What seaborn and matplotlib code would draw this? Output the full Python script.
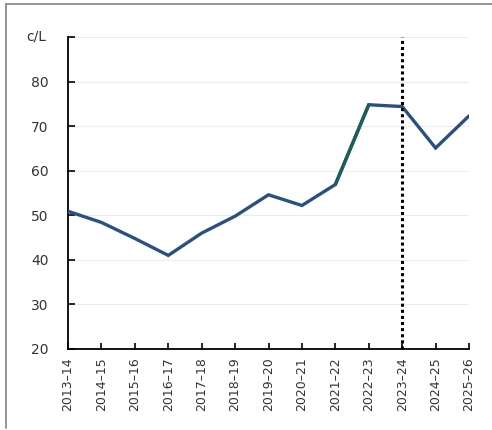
import matplotlib
matplotlib.use("Agg")
import matplotlib.pyplot as plt
from matplotlib.lines import Line2D
import seaborn as sns
import pandas as pd

# Financial years and average price (c/L)
years = ["2013–14", "2014–15", "2015–16", "2016–17", "2017–18", "2018–19",
         "2019–20", "2020–21", "2021–22", "2022–23", "2023–24", "2024–25", "2025–26"]
price = [50.9, 48.4, 44.8, 41.0, 46.0, 49.8, 54.6, 52.2, 56.9, 74.8, 74.4, 65.1, 72.3]

# Highlighted jump between these two years
highlight_years = ["2021–22", "2022–23"]
# Boundary marker year
marker_year = "2023–24"

y_ticks = [20, 30, 40, 50, 60, 70, 80, 90]
y_tick_labels = ["20", "30", "40", "50", "60", "70", "80", ""]
y_unit = "c/L"

blue = "#2a5083"
green = "#1c5e5a"

sns.set_theme(style="white")
plt.rcParams["font.family"] = ["DejaVu Sans"]

df = pd.DataFrame({"year": years, "price": price})
df["x"] = range(len(df))
hl = df[df["year"].isin(highlight_years)]

fig = plt.figure(figsize=(4.92, 4.30), dpi=100)
ax = fig.add_axes([68 / 492, 1 - 349 / 430, (469 - 68) / 492, (349 - 37) / 430])

sns.lineplot(data=df, x="x", y="price", ax=ax, color=blue, linewidth=2.4,
             solid_joinstyle="miter", zorder=3)
sns.lineplot(data=hl, x="x", y="price", ax=ax, color=green, linewidth=2.4,
             zorder=4)

mx = years.index(marker_year)
ax.axvline(mx, color="black", linestyle=(0, (1, 1)), linewidth=2.2, zorder=5)

ax.set_xlim(0, len(years) - 1)
ax.set_ylim(20, 90)
ax.set_yticks(y_ticks)
ax.set_yticklabels(y_tick_labels)
ax.set_xticks(df["x"])
ax.set_xticklabels(years, rotation=90)
ax.set_xlabel("")
ax.set_ylabel("")

ax.grid(axis="y", color="#ececec", linewidth=0.8)
ax.set_axisbelow(True)
for s in ["top", "right"]:
    ax.spines[s].set_visible(False)
for s in ["left", "bottom"]:
    ax.spines[s].set_color("black")
    ax.spines[s].set_linewidth(1.3)

ax.tick_params(axis="y", direction="in", length=5, width=1.2, color="black",
               pad=14, labelsize=10, labelcolor="#333333")
ax.tick_params(axis="x", direction="in", length=4, width=1.2, color="black",
               pad=6, labelsize=9, labelcolor="#333333")
ax.tick_params(left=True, bottom=True)

fig.text(36 / 492, 1 - 36 / 430, y_unit, ha="center", va="center",
         fontsize=10, color="#333333")

# Frame lines on the left and top edges
fig.add_artist(Line2D([6 / 492, 6 / 492], [1 - 4 / 430, 1 - 428 / 430],
                      transform=fig.transFigure, color="#8a8a8a", linewidth=1.3))
fig.add_artist(Line2D([6 / 492, 1.0], [1 - 4 / 430, 1 - 4 / 430],
                      transform=fig.transFigure, color="#8a8a8a", linewidth=1.3))

fig.savefig("out.png", dpi=100)
